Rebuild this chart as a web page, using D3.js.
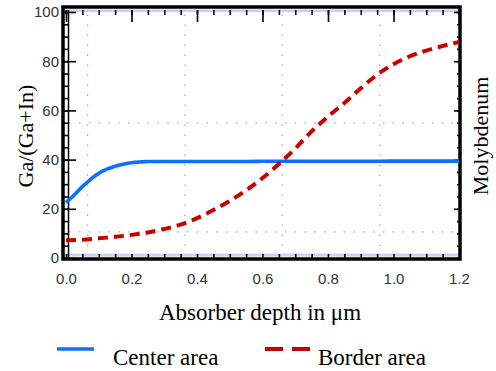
<!DOCTYPE html>
<html>
<head>
<meta charset="utf-8">
<script src="https://cdn.jsdelivr.net/npm/d3@7"></script>
<style>
body { margin: 0; background: #fff; }
svg { display: block; }
</style>
</head>
<body>
<div id="chart"></div>
<script>
// depth positions in um
var depthCenter = [0, 0.025, 0.05, 0.075, 0.1, 0.125, 0.15, 0.175, 0.2, 0.225, 0.25, 0.3, 0.4, 0.5, 0.6, 0.7, 0.8, 0.9, 1.0, 1.1, 1.2];
var centerArea  = [22.5, 25.6, 29, 32, 34.4, 36.1, 37.3, 38.1, 38.7, 39.0, 39.2, 39.2, 39.2, 39.2, 39.3, 39.3, 39.3, 39.3, 39.4, 39.4, 39.4];

var depthBorder = [0, 0.05, 0.1, 0.15, 0.2, 0.25, 0.3, 0.35, 0.4, 0.45, 0.5, 0.55, 0.6, 0.65, 0.7, 0.75, 0.8, 0.85, 0.9, 0.95, 1.0, 1.05, 1.1, 1.15, 1.2];
var borderArea  = [7.2, 7.4, 8, 8.6, 9.4, 10.4, 11.8, 13.6, 16.2, 19.5, 23.2, 27.5, 32.5, 38.2, 44.5, 51.5, 57.5, 63, 69, 74.5, 78.8, 82, 84.3, 86.2, 87.8];

var xTicks = [0, 0.2, 0.4, 0.6, 0.8, 1.0, 1.2];
var yTicks = [0, 20, 40, 60, 80, 100];
var gridX = [0.066, 0.363, 0.66, 0.958];
var gridY = [10.6, 54.9];

var legendNames = ["Center area", "Border area"];

var W = 496, H = 371;
var svg = d3.select("#chart").append("svg").attr("width", W).attr("height", H);

var x = d3.scaleLinear().domain([0, 1.2]).range([66, 459]);
var y = d3.scaleLinear().domain([0, 100]).range([258, 12]);

var plot = svg.append("g");

// dotted grid (offset from ticks, like the original)
gridX.forEach(function(g) {
    plot.append("line")
        .attr("x1", x(g)).attr("x2", x(g))
        .attr("y1", y(99)).attr("y2", y(1))
        .attr("stroke", "#aaa").attr("stroke-width", 1.2)
        .attr("stroke-dasharray", "1.5,8.5");
});
gridY.forEach(function(g) {
    plot.append("line")
        .attr("x1", x(0.01)).attr("x2", x(1.19))
        .attr("y1", y(g)).attr("y2", y(g))
        .attr("stroke", "#aaa").attr("stroke-width", 1.2)
        .attr("stroke-dasharray", "1.5,8.3");
});

// thin blue edge strips top and bottom
plot.append("rect").attr("x", 64).attr("y", 9.5).attr("width", 395).attr("height", 2.5)
    .attr("fill", "#c8cdf5");
plot.append("rect").attr("x", 64).attr("y", 253.5).attr("width", 395).attr("height", 3)
    .attr("fill", "#cdd1f5");

var minorX = d3.range(0, 1.2001, 0.05);
var minorY = d3.range(0, 100.01, 5);

// top ticks, pointing down
plot.append("g").attr("transform", "translate(0,10)")
    .call(d3.axisBottom(x).tickValues(minorX).tickSize(5).tickFormat(""))
    .select(".domain").remove();
plot.append("g").attr("transform", "translate(0,10)")
    .call(d3.axisBottom(x).tickValues(xTicks).tickSize(12).tickFormat(""))
    .select(".domain").remove();

// bottom ticks, pointing up
plot.append("g").attr("transform", "translate(0,259)")
    .call(d3.axisTop(x).tickValues(minorX).tickSize(5).tickFormat(""))
    .select(".domain").remove();

// left ladder
plot.append("g").attr("transform", "translate(64,0)")
    .call(d3.axisRight(y).tickValues(minorY).tickSize(5).tickFormat(""))
    .select(".domain").remove();
plot.append("g").attr("transform", "translate(64,0)")
    .call(d3.axisRight(y).tickValues(yTicks).tickSize(12).tickFormat(""))
    .select(".domain").remove();
plot.append("line").attr("x1", 68.5).attr("x2", 68.5).attr("y1", 10).attr("y2", 258)
    .attr("stroke", "#000").attr("stroke-width", 1.5);

// right ticks
plot.append("g").attr("transform", "translate(459,0)")
    .call(d3.axisLeft(y).tickValues(minorY).tickSize(2).tickFormat(""))
    .select(".domain").remove();
plot.append("g").attr("transform", "translate(459,0)")
    .call(d3.axisLeft(y).tickValues(yTicks).tickSize(5).tickFormat(""))
    .select(".domain").remove();

plot.selectAll(".tick line").attr("stroke", "#000").attr("stroke-width", 1.6);

// frame
plot.append("rect").attr("x", 63).attr("y", 7).attr("width", 397).attr("height", 252)
    .attr("fill", "none").attr("stroke", "#000").attr("stroke-width", 3.5);

// data lines
var line = d3.line().curve(d3.curveMonotoneX);

plot.append("path")
    .attr("d", line(depthCenter.map(function(d, i) { return [x(d), y(centerArea[i])]; })))
    .attr("fill", "none").attr("stroke", "#0f6fff").attr("stroke-width", 3.6);

plot.append("path")
    .attr("d", line(depthBorder.map(function(d, i) { return [x(d), y(borderArea[i])]; })))
    .attr("fill", "none").attr("stroke", "#c80000").attr("stroke-width", 4)
    .attr("stroke-dasharray", "10,6");

// tick labels
var sans = "Liberation Sans, Arial, sans-serif";
var yLab = svg.append("g").attr("transform", "translate(59,0)")
    .call(d3.axisLeft(y).tickValues(yTicks).tickSize(0).tickPadding(0));
yLab.select(".domain").remove();
yLab.selectAll("text").attr("font-family", sans).attr("font-size", 15).attr("fill", "#333");

var xLab = svg.append("g").attr("transform", "translate(0,273)")
    .call(d3.axisBottom(x).tickValues(xTicks).tickSize(0).tickPadding(0).tickFormat(d3.format(".1f")));
xLab.select(".domain").remove();
xLab.selectAll("text").attr("font-family", sans).attr("font-size", 15).attr("fill", "#333");

var serif = "Liberation Serif, Times New Roman, serif";

svg.append("text").attr("transform", "translate(33,136) rotate(-90)")
    .attr("text-anchor", "middle").attr("font-family", serif).attr("font-size", 22)
    .text("Ga/(Ga+In)");

svg.append("text").attr("transform", "translate(488,136) rotate(-90)")
    .attr("text-anchor", "middle").attr("font-family", serif).attr("font-size", 22)
    .text("Molybdenum");

svg.append("text").attr("x", 260).attr("y", 320)
    .attr("text-anchor", "middle").attr("font-family", serif).attr("font-size", 23)
    .text("Absorber depth in \u03bcm");

// legend
var leg = svg.append("g");
leg.append("line").attr("x1", 57).attr("x2", 94).attr("y1", 349).attr("y2", 349)
    .attr("stroke", "#0f6fff").attr("stroke-width", 3.6);
leg.append("text").attr("x", 113).attr("y", 365).attr("font-family", serif).attr("font-size", 23)
    .text(legendNames[0]);
leg.append("line").attr("x1", 265).attr("x2", 310).attr("y1", 349).attr("y2", 349)
    .attr("stroke", "#c80000").attr("stroke-width", 4).attr("stroke-dasharray", "18,9");
leg.append("text").attr("x", 318).attr("y", 365).attr("font-family", serif).attr("font-size", 23)
    .text(legendNames[1]);
</script>
</body>
</html>
